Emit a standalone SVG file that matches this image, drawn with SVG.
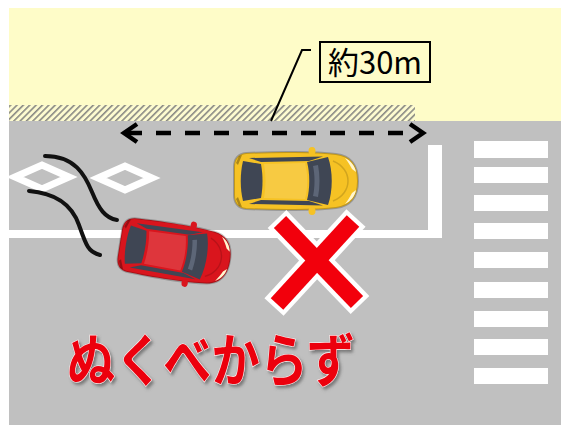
<svg xmlns="http://www.w3.org/2000/svg" xmlns:xlink="http://www.w3.org/1999/xlink" width="561" height="425" viewBox="0 0 561 425">
  <style>
    .mark { fill: none; stroke: #ffffff; }
    .skid { fill: none; stroke: #111111; stroke-width: 4; stroke-linecap: round; }
    .dim { fill: none; stroke: #000000; stroke-width: 4.5; }
    .xw { stroke: #ffffff; stroke-width: 26; }
    .xr { stroke: #f2000c; stroke-width: 17; }
    .label { font-family: "Noto Sans CJK JP", "Noto Sans", sans-serif; }
  </style>
  <defs>
    <pattern id="hatch" width="4.5" height="4.5" patternUnits="userSpaceOnUse" patternTransform="rotate(45)">
      <rect width="4.5" height="4.5" fill="#fdfbd0"/>
      <rect width="1.6" height="4.5" fill="#8a8a84"/>
    </pattern>
    <filter id="shadow" x="-10%" y="-20%" width="130%" height="150%">
      <feDropShadow dx="2" dy="2.5" stdDeviation="1.5" flood-color="#5a5a5a" flood-opacity="0.7"/>
    </filter>
    <!-- top-down car, nose pointing to +x; body colour comes from the <use> -->
    <g id="car">
      <path d="M -50,-28 C -20,-29.5 20,-29.5 40,-27 C 56,-25 62,-14 62,0 C 62,14 56,25 40,27 C 20,29.5 -20,29.5 -50,28 C -58,27 -62,22 -62,14 L -62,-14 C -62,-22 -58,-27 -50,-28 Z"/>
      <path d="M -50,-28 C -20,-29.5 20,-29.5 40,-27 C 56,-25 62,-14 62,0 C 62,14 56,25 40,27 C 20,29.5 -20,29.5 -50,28 C -58,27 -62,22 -62,14 L -62,-14 C -62,-22 -58,-27 -50,-28 Z" fill="none" stroke="#000" stroke-opacity="0.22" stroke-width="2"/>
      <ellipse cx="16" cy="-30" rx="3.5" ry="4"/>
      <ellipse cx="16" cy="30" rx="3.5" ry="4"/>
      <!-- side glass -->
      <path d="M -47,-23 L 27,-24.5 L 13,-20 L -35,-19 Z" fill="#3f4654"/>
      <path d="M -47,23 L 27,24.5 L 13,20 L -35,19 Z" fill="#3f4654"/>
      <!-- rear window -->
      <path d="M -53,-20 C -56,-8 -56,8 -53,20 L -35,17 C -33,6 -33,-6 -35,-17 Z" fill="#3f4654"/>
      <!-- windshield -->
      <path d="M 11,-19 C 14,-8 14,8 11,19 L 32,24 C 37,10 37,-10 32,-24 Z" fill="#3f4654"/>
      <path d="M 17,-15 C 19,-6 19,6 17,15 L 22,16 C 24,6 24,-6 22,-16 Z" fill="#5d6677"/>
      <!-- roof and hood shading -->
      <path d="M -32,-17 L 9,-18 C 12,-6 12,6 9,18 L -32,17 C -30,6 -30,-6 -32,-17 Z" fill="#ffffff" fill-opacity="0.14"/>
      <path d="M 37,-20 C 47,-16 52,-8 52,0 C 52,8 47,16 37,20" fill="none" stroke="#000" stroke-opacity="0.15" stroke-width="1.5"/>
      <!-- lamps -->
      <path d="M 49,-23 C 55,-20 59,-15 60,-9 L 56,-12 C 54,-16 52,-19 49,-23 Z" fill="#fff6d0"/>
      <path d="M 49,23 C 55,20 59,15 60,9 L 56,12 C 54,16 52,19 49,23 Z" fill="#fff6d0"/>
      <path d="M -60,-18 L -57,-25 L -54,-26 L -58,-16 Z" fill="#000" fill-opacity="0.3"/>
      <path d="M -60,18 L -57,25 L -54,26 L -58,16 Z" fill="#000" fill-opacity="0.3"/>
    </g>
  </defs>

  <!-- page, sidewalk and road -->
  <rect width="561" height="425" fill="#ffffff"/>
  <rect x="9" y="8" width="552" height="114" fill="#fefcc8"/>
  <rect x="9" y="105" width="406" height="16" fill="url(#hatch)"/>
  <rect x="9" y="121" width="552" height="304" fill="#c0c0c0"/>

  <!-- road markings -->
  <g id="markings">
    <rect x="9" y="230" width="433" height="8" fill="#ffffff"/>
    <rect x="428" y="145" width="14" height="93" fill="#ffffff"/>
    <path class="mark" stroke-width="7" d="M 15,177 L 42,165 L 69,177 L 42,189 Z"/>
    <path class="mark" stroke-width="7" d="M 98,178 L 125,166 L 152,178 L 125,190 Z"/>
    <g id="crosswalk" fill="#ffffff">
      <rect x="474" y="141" width="74" height="17"/>
      <rect x="474" y="167" width="74" height="16"/>
      <rect x="474" y="195" width="74" height="16"/>
      <rect x="474" y="223" width="74" height="16"/>
      <rect x="474" y="252" width="74" height="16"/>
      <rect x="474" y="282" width="74" height="16"/>
      <rect x="474" y="311" width="74" height="16"/>
      <rect x="474" y="339" width="74" height="16"/>
      <rect x="474" y="368" width="74" height="16"/>
    </g>
  </g>

  <!-- skid marks -->
  <g id="skids">
    <path class="skid" d="M 45,156 C 75,156 85,175 92,192 S 105,218 117,220"/>
    <path class="skid" d="M 29,191 C 55,193 72,205 79,225 S 88,252 100,255"/>
  </g>

  <!-- cars -->
  <g id="car-yellow">
    <use xlink:href="#car" transform="translate(296,181)" fill="#f6c224"/>
  </g>
  <g id="car-red">
    <use xlink:href="#car" transform="translate(175,252) rotate(9) scale(0.9,0.97)" fill="#d9151d"/>
  </g>

  <!-- prohibition cross -->
  <g id="cross">
    <line class="xw" x1="277" y1="219" x2="360" y2="305"/>
    <line class="xw" x1="356" y1="218" x2="274" y2="307"/>
    <line class="xr" x1="280" y1="222" x2="357" y2="302"/>
    <line class="xr" x1="353" y1="221" x2="277" y2="304"/>
  </g>

  <!-- distance indicator -->
  <g id="distance">
    <line class="dim" x1="127" y1="133" x2="403" y2="133" stroke-dasharray="15 14"/>
    <polyline class="dim" points="137,124 124,133 137,142"/>
    <polyline class="dim" points="410,124 423,133 410,142"/>
    <polyline fill="none" stroke="#000" stroke-width="2" points="311,50 302,50 271,121"/>
  </g>
  <g id="distance-label">
    <rect x="320" y="42" width="110" height="40" fill="#fefcc8" stroke="#000" stroke-width="2"/>
    <text class="label" x="375" y="74" font-size="31" text-anchor="middle" fill="#000">約30m</text>
  </g>

  <!-- caption -->
  <text class="label" x="67" y="381" font-size="57" font-weight="700" fill="#ec0010" stroke="#fff0f0" stroke-width="1.2" paint-order="stroke" textLength="288" lengthAdjust="spacingAndGlyphs" filter="url(#shadow)">ぬくべからず</text>
</svg>
